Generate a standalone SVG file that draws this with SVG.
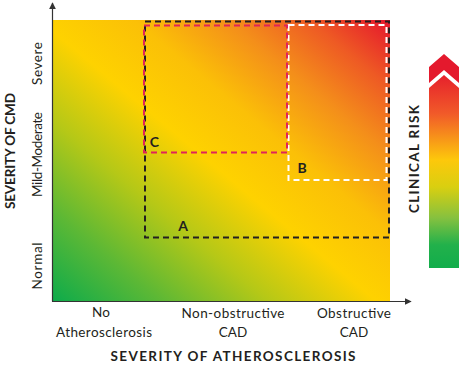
<svg xmlns="http://www.w3.org/2000/svg" width="460" height="365" viewBox="0 0 460 365">
  <defs>
    <linearGradient id="plotGrad" x1="0" y1="1" x2="1" y2="0">
      <stop offset="0" stop-color="#0dab4b"/>
      <stop offset="0.16" stop-color="#5cb835"/>
      <stop offset="0.32" stop-color="#b5c817"/>
      <stop offset="0.48" stop-color="#fed200"/>
      <stop offset="0.62" stop-color="#fbc007"/>
      <stop offset="0.76" stop-color="#f48f1a"/>
      <stop offset="0.88" stop-color="#ee5a24"/>
      <stop offset="1" stop-color="#e5152d"/>
    </linearGradient>
    <linearGradient id="riskGrad" x1="0" y1="0" x2="0" y2="1">
      <stop offset="0" stop-color="#e6202c"/>
      <stop offset="0.2" stop-color="#f15a29"/>
      <stop offset="0.44" stop-color="#fdc80b"/>
      <stop offset="0.58" stop-color="#d9cf10"/>
      <stop offset="0.74" stop-color="#86c13f"/>
      <stop offset="0.88" stop-color="#22b14b"/>
      <stop offset="1" stop-color="#12ad4b"/>
    </linearGradient>
    <marker id="arr" viewBox="0 0 10 10" refX="9" refY="5" markerWidth="7" markerHeight="7" markerUnits="userSpaceOnUse" orient="auto">
      <path d="M0,0 L10,5 L0,10 Z" fill="#333"/>
    </marker>
    <style>
      .lbl { font-family: Lato, "Liberation Sans", sans-serif; font-size: 13.5px; fill: #231f20; }
      .ttl { font-family: Lato, "Liberation Sans", sans-serif; font-size: 13.5px; font-weight: bold; fill: #231f20; }
      .let { font-family: Lato, "Liberation Sans", sans-serif; font-size: 14px; font-weight: bold; fill: #231f20; }
      .dash { fill: none; stroke-width: 2; stroke-dasharray: 6 4; }
      .axis { stroke: #333; stroke-width: 1.2; fill: none; }
    </style>
  </defs>

  <g id="plot">
    <rect x="53" y="20" width="337" height="281" fill="url(#plotGrad)"/>
  </g>

  <g id="connectors">
    <line class="axis" x1="52.5" y1="301.5" x2="52.5" y2="3" marker-end="url(#arr)"/>
    <line class="axis" x1="52" y1="301.5" x2="411" y2="301.5" marker-end="url(#arr)"/>
  </g>

  <g id="boxA">
    <rect class="dash" x="145" y="21.5" width="244" height="216" stroke="#231f20"/>
    <text class="let" x="183" y="231" text-anchor="middle">A</text>
  </g>
  <g id="boxB">
    <rect class="dash" x="288.5" y="25" width="98" height="155" stroke="#ffffff"/>
    <text class="let" x="302" y="172.5" text-anchor="middle">B</text>
  </g>
  <g id="boxC">
    <rect class="dash" x="144" y="25.5" width="143" height="127" stroke="#e0245a"/>
    <text class="let" x="154.5" y="147" text-anchor="middle">C</text>
  </g>

  <g id="yLabels">
    <text class="lbl" transform="translate(42,63.5) rotate(-90)" text-anchor="middle" textLength="43">Severe</text>
    <text class="lbl" transform="translate(42,154.5) rotate(-90)" text-anchor="middle" textLength="85">Mild-Moderate</text>
    <text class="lbl" transform="translate(42,266) rotate(-90)" text-anchor="middle" textLength="47">Normal</text>
    <text class="ttl" transform="translate(15,151) rotate(-90)" text-anchor="middle" textLength="116">SEVERITY OF CMD</text>
  </g>

  <g id="xLabels">
    <text class="lbl" x="101" y="317" text-anchor="middle">No</text>
    <text class="lbl" x="104" y="337" text-anchor="middle" textLength="96">Atherosclerosis</text>
    <text class="lbl" x="233" y="318" text-anchor="middle" textLength="103">Non-obstructive</text>
    <text class="lbl" x="233" y="337" text-anchor="middle">CAD</text>
    <text class="lbl" x="354" y="318" text-anchor="middle" textLength="74">Obstructive</text>
    <text class="lbl" x="354" y="337" text-anchor="middle">CAD</text>
    <text class="ttl" x="233" y="361" text-anchor="middle" textLength="245">SEVERITY OF ATHEROSCLEROSIS</text>
  </g>

  <g id="clinicalRisk">
    <polygon points="429,67 444,54 459,67 459,83 444,70 429,83" fill="#e4192d"/>
    <polygon points="429,88 444,75 459,88 459,268 429,268" fill="url(#riskGrad)"/>
    <text class="ttl" transform="translate(418.5,159) rotate(-90)" text-anchor="middle" textLength="108">CLINICAL RISK</text>
  </g>
</svg>
